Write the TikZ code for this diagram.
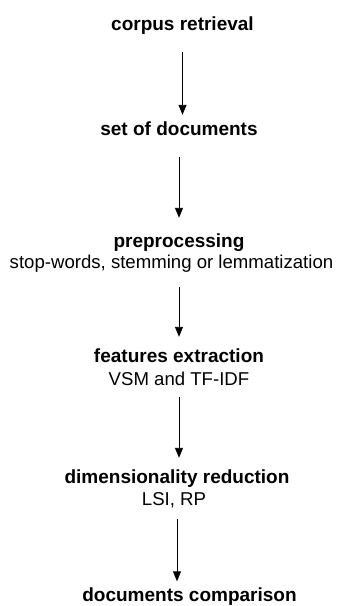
\documentclass[tikz,border=0pt]{standalone}
\usepackage{fontspec}
\setmainfont{Liberation Sans}
\usetikzlibrary{arrows.meta}
\tikzset{
  title/.style={font=\fontsize{19}{22}\selectfont\bfseries, inner sep=0pt, text height=14pt, text depth=4pt, anchor=base},
  sub/.style={font=\fontsize{18.6}{22}\selectfont, inner sep=0pt, text height=14pt, text depth=4pt, anchor=base},
  arr/.style={line width=0.9pt, -{Triangle[length=10pt,width=8pt]}}
}
\begin{document}
\begin{tikzpicture}[x=1pt,y=-1pt]
\useasboundingbox (0,0) rectangle (345,606);
\node[title] (n1) at (182.5,30) {corpus retrieval};
\node[title] (n2) at (179,135) {set of documents};
\node[title] (n3) at (179,247) {preprocessing};
\node[sub] (n3s) at (171.5,268) {stop-words, stemming or lemmatization};
\node[title] (n4) at (179,362.7) {features extraction};
\node[sub] (n4s) at (179,385) {VSM and TF-IDF};
\node[title] (n5) at (177,483.3) {dimensionality reduction};
\node[sub] (n5s) at (174,505) {LSI, RP};
\node[title] (n6) at (189.5,601.5) {documents comparison};

\draw[arr, shorten <=18pt, shorten >=6pt] (n1.south) -- (n1.south |- n2.north);
\draw[arr, shorten <=18pt, shorten >=15pt] (n2.south) -- (n2.south |- n3.north);
\draw[arr, shorten <=15pt, shorten >=11.7pt] (n3s.south -| n3) -- (n3 |- n4.north);
\draw[arr, shorten <=7.7pt, shorten >=11.3pt] (n4s.south) -- (n4s.south |- n5.north);
\draw[arr, shorten <=10pt, shorten >=6pt] (n5s.south -| n5) -- (n5 |- n6.north);
\end{tikzpicture}
\end{document}
